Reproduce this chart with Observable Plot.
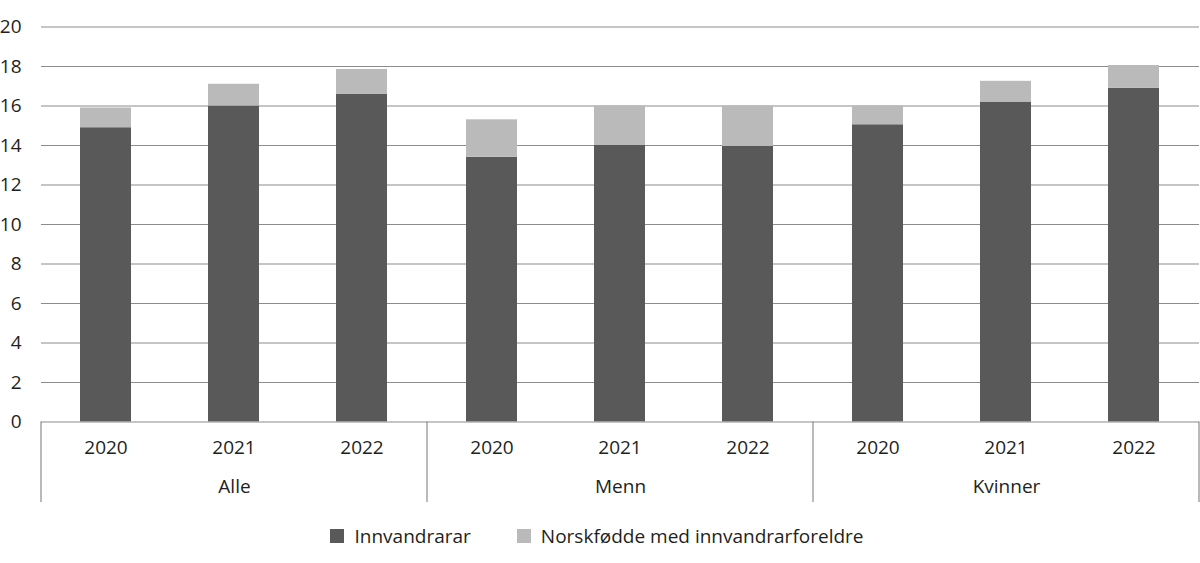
<!DOCTYPE html>
<html>
<head>
<meta charset="utf-8">
<script src="https://cdn.jsdelivr.net/npm/d3@7"></script>
<script src="https://cdn.jsdelivr.net/npm/@observablehq/plot@0.6"></script>
<style>
  html, body { margin: 0; padding: 0; background: #fff; }
  #chart { width: 1200px; }
  .legend { display: flex; justify-content: center; gap: 46px; margin-top: 13px; font-family: "Open Sans", sans-serif; font-size: 19px; color: #231f20; padding-right: 6px; }
  .legend span.item { display: flex; align-items: center; }
  .legend span.sw { width: 14px; height: 14px; display: inline-block; margin-right: 10px; }
</style>
</head>
<body>
<div id="chart"></div>
<script>
const groups = ["Alle", "Menn", "Kvinner"];
const years = ["2020", "2021", "2022"];
const series = ["Innvandrarar", "Norskfødde med innvandrarforeldre"];
const innvandrarar = [14.9, 16.0, 16.6, 13.4, 14.0, 13.95, 15.05, 16.2, 16.9];
const norskfodde = [1.0, 1.1, 1.25, 1.9, 2.0, 2.05, 0.95, 1.05, 1.15];
const yTicks = [0, 2, 4, 6, 8, 10, 12, 14, 16, 18, 20];
const colors = ["#595959", "#bababa"];

const data = [];
groups.forEach((g, gi) => years.forEach((yr, yi) => {
  data.push({group: g, year: yr, serie: series[0], value: innvandrarar[gi * 3 + yi]});
  data.push({group: g, year: yr, serie: series[1], value: norskfodde[gi * 3 + yi]});
}));

const plot = Plot.plot({
  width: 1200,
  height: 510,
  marginLeft: 41,
  marginRight: 1,
  marginTop: 26.5,
  marginBottom: 88.5,
  style: {fontFamily: "Open Sans, sans-serif", fontSize: "19px", color: "#231f20", background: "#fff"},
  fx: {domain: groups, padding: 0, label: null},
  x: {domain: years, paddingInner: 0.6, paddingOuter: 0.3, label: null},
  y: {domain: [0, 20], label: null},
  color: {domain: series, range: colors},
  marks: [
    Plot.ruleY(yTicks.filter(d => d > 0), {stroke: "#8c8c8c", strokeWidth: 1.2}),
    Plot.barY(data, {fx: "group", x: "year", y: "value", fill: "serie"}),
    Plot.ruleY([0], {stroke: "#8c8c8c", strokeWidth: 1.2}),
    Plot.axisY({ticks: yTicks, tickSize: 0, tickPadding: 20, fontSize: 19, label: null}),
    Plot.axisX({tickSize: 0, tickPadding: 18, fontSize: 19, label: null}),
    Plot.axisFx({anchor: "bottom", tickSize: 0, tickPadding: 57, fontSize: 19, label: null})
  ]
});

// group separator lines in the bottom axis area, placed from the fx and y scales
const fx = plot.scale("fx");
const y = plot.scale("y");
const svg = d3.select(plot);
const y0 = y.apply(0);
const xs = groups.map(g => fx.apply(g));
xs.push(fx.apply(groups[groups.length - 1]) + fx.bandwidth);
svg.append("g")
  .attr("stroke", "#8c8c8c")
  .attr("stroke-width", 1.2)
  .selectAll("line")
  .data(xs)
  .join("line")
  .attr("x1", d => d)
  .attr("x2", d => d)
  .attr("y1", y0)
  .attr("y2", y0 + 80.5);

document.getElementById("chart").appendChild(plot);

const legend = d3.select("#chart").append("div").attr("class", "legend");
series.forEach((s, i) => {
  const item = legend.append("span").attr("class", "item");
  item.append("span").attr("class", "sw").style("background", colors[i]);
  item.append("span").text(s);
});
</script>
</body>
</html>
